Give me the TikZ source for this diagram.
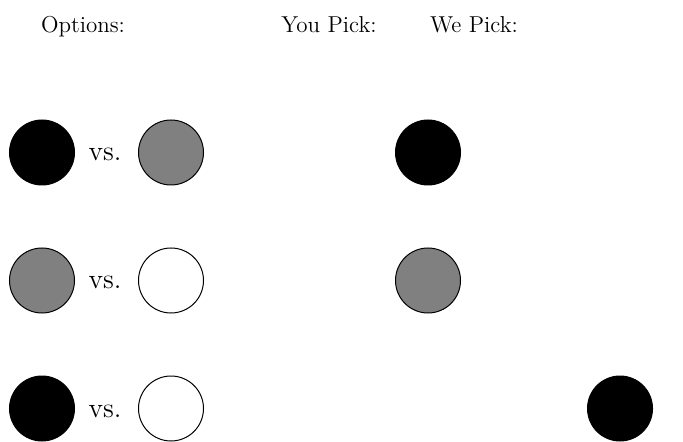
\documentclass[tikz,border=0pt]{standalone}
\usepackage{xcolor}
\usepackage{tikz}
\usetikzlibrary{positioning}
\tikzstyle{dot} = [circle,
    minimum size=32.5pt,
    inner sep=0pt,
    draw=black,
    line width=0.5pt]
\tikzstyle{blackdot} = [dot, fill=black]
\tikzstyle{greydot} = [dot, fill=gray]
\tikzstyle{whitedot} = [dot, fill=white]
\tikzstyle{heading} = [anchor=base, inner sep=0pt, font=\fontsize{11.5}{13}\selectfont]
\tikzstyle{versus} = [anchor=base, inner sep=0pt, font=\fontsize{14}{16}\selectfont]

\begin{document}
\begin{tikzpicture}[x=0.5pt, y=-0.5pt, node distance=64pt]
        \useasboundingbox (0,0) rectangle (683,442);

        \node (options) [heading] at (83,33) {Options:};
        \node (youpick) [heading] at (329,33) {You Pick:};
        \node (wepick) [heading] at (474,33) {We Pick:};

        % row one
        \node (left1) [blackdot] at (42,152.5) {};
        \node (right1) [greydot] at (171,152.5) {};
        \node (vs1) [versus] at (105,161) {vs.};
        \node (you1) [blackdot] at (428,152.5) {};

        % row two
        \node (left2) [greydot, below of=left1] {};
        \node (right2) [whitedot, below of=right1] {};
        \node (vs2) [versus] at (105,289) {vs.};
        \node (you2) [greydot, below of=you1] {};

        % row three
        \node (left3) [blackdot, below of=left2] {};
        \node (right3) [whitedot, below of=right2] {};
        \node (vs3) [versus] at (105,417) {vs.};
        \node (we3) [blackdot] at (620,408.5) {};
    \end{tikzpicture}
\end{document}
